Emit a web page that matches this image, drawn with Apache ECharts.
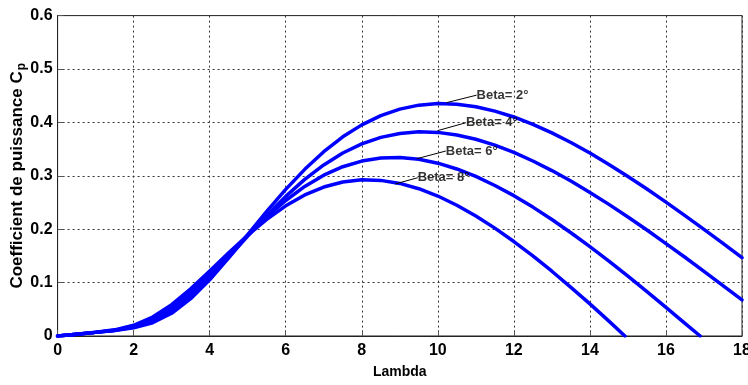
<!DOCTYPE html>
<html>
<head>
<meta charset="utf-8">
<script src="https://cdn.jsdelivr.net/npm/echarts@6/dist/echarts.min.js"></script>
<style>
html,body{margin:0;padding:0;background:#fff;}
#chart{width:748px;height:385px;}
</style>
</head>
<body>
<div id="chart"></div>
<script>
// ---- data ----
const lambdaFull = [0,0.5,1,1.5,2,2.5,3,3.5,4,4.5,5,5.5,6,6.5,7,7.5,8,8.5,9,9.5,10,10.5,11,11.5,12,12.5,13,13.5,14,14.5,15,15.5,16,16.5,17,17.5,18];
const cpBeta2 = [0,0.0034,0.0068,0.0102,0.0152,0.0248,0.0426,0.0698,0.1052,0.1462,0.1897,0.2332,0.2745,0.3121,0.3452,0.3730,0.3954,0.4128,0.4248,0.4323,0.4352,0.4341,0.4293,0.4211,0.4102,0.3964,0.3804,0.3624,0.3426,0.3213,0.2988,0.2754,0.2508,0.2254,0.1997,0.1734,0.1466];
const cpBeta4 = [0,0.0034,0.0068,0.0105,0.0163,0.0275,0.0469,0.0747,0.1090,0.1474,0.1870,0.2256,0.2615,0.2933,0.3204,0.3427,0.3598,0.3719,0.3792,0.3823,0.3813,0.3764,0.3684,0.3573,0.3437,0.3277,0.3098,0.2901,0.2689,0.2465,0.2228,0.1984,0.1731,0.1474,0.1210,0.0944,0.0675];
const lambdaBeta6 = [0,0.5,1,1.5,2,2.5,3,3.5,4,4.5,5,5.5,6,6.5,7,7.5,8,8.5,9,9.5,10,10.5,11,11.5,12,12.5,13,13.5,14,14.5,15,15.5,16,16.5,16.9];
const cpBeta6 = [0,0.0034,0.0068,0.0109,0.0179,0.0312,0.0526,0.0815,0.1155,0.1522,0.1887,0.2231,0.2538,0.2801,0.3011,0.3170,0.3276,0.3333,0.3344,0.3309,0.3236,0.3128,0.2988,0.2819,0.2628,0.2414,0.2181,0.1934,0.1673,0.1403,0.1120,0.0832,0.0536,0.0237,0];
const lambdaBeta8 = [0,0.5,1,1.5,2,2.5,3,3.5,4,4.5,5,5.5,6,6.5,7,7.5,8,8.5,9,9.5,10,10.5,11,11.5,12,12.5,13,13.5,14,14.5,14.92];
const cpBeta8 = [0,0.0034,0.0069,0.0115,0.0201,0.0356,0.0587,0.0882,0.1215,0.1558,0.1888,0.2185,0.2438,0.2642,0.2790,0.2884,0.2924,0.2914,0.2857,0.2758,0.2621,0.2449,0.2248,0.2020,0.1769,0.1500,0.1213,0.0912,0.0601,0.0279,0];

const annotationTexts = ['Beta= 2°','Beta= 4°','Beta= 6°','Beta= 8°'];
const arrowHeads = [[10.23,0.437],[9.99,0.3845],[9.445,0.332],[8.874,0.2846]];
const arrowTails = [[11.02,0.451],[10.74,0.3994],[10.21,0.3464],[9.47,0.2964]];

const xAxisTitle = 'Lambda';
const yAxisTitle = 'Coefficient de puissance C';

// ---- chart ----
const zip = (xs, ys) => xs.map((x, i) => [x, ys[i]]);
const seriesData = [
  zip(lambdaFull, cpBeta2),
  zip(lambdaFull, cpBeta4),
  zip(lambdaBeta6, cpBeta6),
  zip(lambdaBeta8, cpBeta8)
];
const font = "'Liberation Sans',Arial,sans-serif";

const series = seriesData.map((d, i) => ({
  type: 'line',
  data: d,
  smooth: false,
  showSymbol: false,
  symbol: 'none',
  lineStyle: { color: '#0000ff', width: 3.5, join: 'round', cap: 'round' },
  z: 3,
  markLine: {
    silent: true,
    symbol: ['none', 'arrow'],
    symbolSize: [0, 8],
    lineStyle: { color: '#000', width: 1, type: 'solid' },
    label: { show: false },
    data: [[{ coord: arrowTails[i] }, { coord: arrowHeads[i] }]],
    z: 5
  }
}));

series.push({
  type: 'scatter',
  symbolSize: 0,
  data: arrowTails.map((t, i) => ({ value: t, name: annotationTexts[i] })),
  label: {
    show: true,
    position: 'right',
    distance: 0,
    formatter: p => p.name,
    color: '#000',
    fontFamily: font,
    fontWeight: 'bold',
    fontSize: 13
  },
  z: 6
});

const chart = echarts.init(document.getElementById('chart'), null, { renderer: 'canvas' });
chart.setOption({
  animation: false,
  backgroundColor: '#fff',
  grid: { left: 57.6, right: 6, top: 15.6, bottom: 49, show: true, borderColor: '#222', borderWidth: 1, containLabel: false, outerBoundsMode: 'none' },
  xAxis: {
    type: 'value', min: 0, max: 18, interval: 2,
    name: xAxisTitle, nameLocation: 'middle', nameGap: 29, nameMoveOverlap: false,
    nameTextStyle: { color: '#000', fontFamily: font, fontWeight: 'bold', fontSize: 14 },
    axisLine: { show: true, lineStyle: { color: '#222', width: 1 } },
    axisTick: { show: true, inside: true, length: 6, lineStyle: { color: '#555' } },
    axisLabel: { color: '#000', fontFamily: font, fontWeight: 'bold', fontSize: 16, margin: 7 },
    splitLine: { show: true, lineStyle: { color: '#333', type: [2, 3], width: 1 } }
  },
  yAxis: {
    type: 'value', min: 0, max: 0.6, interval: 0.1,
    name: yAxisTitle + '{sub|p}', nameLocation: 'middle', nameGap: 30, nameRotate: 90, nameMoveOverlap: false,
    nameTextStyle: {
      color: '#000', fontFamily: font, fontWeight: 'bold', fontSize: 17,
      rich: { sub: { fontFamily: font, fontWeight: 'bold', fontSize: 12, color: '#000', padding: [8, 0, 0, 1] } }
    },
    axisLine: { show: true, lineStyle: { color: '#222', width: 1 } },
    axisTick: { show: true, inside: true, length: 6, lineStyle: { color: '#555' } },
    axisLabel: { color: '#000', fontFamily: font, fontWeight: 'bold', fontSize: 16, margin: 5 },
    splitLine: { show: true, lineStyle: { color: '#333', type: [2, 3], width: 1 } }
  },
  series: series
});
</script>
</body>
</html>
